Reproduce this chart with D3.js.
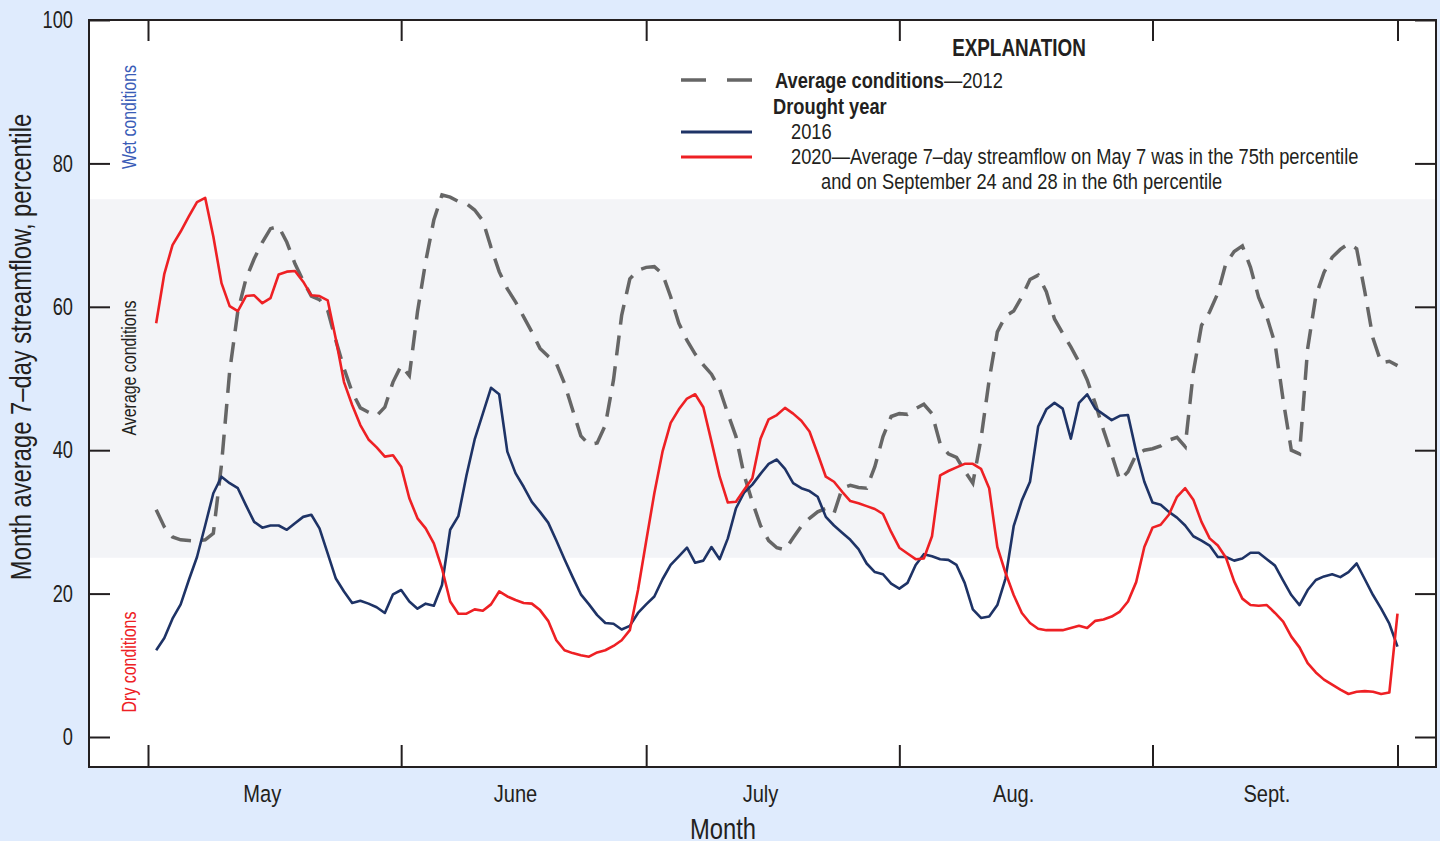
<!DOCTYPE html>
<html><head><meta charset="utf-8">
<script src="https://cdn.jsdelivr.net/npm/d3@7"></script>
<style>
html,body{margin:0;padding:0;background:#dfebfd;}
svg{display:block;}
text{font-family:"Liberation Sans",Arial,sans-serif;fill:#231f20;}
</style></head><body>
<svg id="chart" width="1440" height="841"></svg>
<script>
// ---- data ----
const monthLabels = ["May", "June", "July", "Aug.", "Sept."];
const monthBoundaries = [0, 31, 61, 92, 123, 153]; // day-of-season at month starts/end (May 1 = day 1)
const yTicks = [0, 20, 40, 60, 80, 100];
const averageBand = [25, 75];

// daily values May 1 .. Sept 30 (153 days)
const series2012 = [
31.7,29.3,27.9,27.5,27.4,27.3,27.5,28.4,38.0,51.0,
59.4,63.9,66.7,69.0,70.9,71.2,69.0,66.0,63.6,61.5,
61.0,59.5,55.3,51.4,48.1,45.9,45.3,44.8,46.0,49.5,
51.8,50.4,59.3,66.3,72.1,75.6,75.3,74.7,74.4,73.5,
72.0,68.3,64.9,62.5,60.7,58.6,56.5,54.2,53.1,52.1,
49.3,45.6,42.0,40.8,41.0,43.5,49.8,58.8,63.9,65.1,
65.5,65.6,64.6,61.4,57.7,55.3,53.4,51.9,50.6,48.5,
45.1,41.9,36.5,32.8,29.5,27.4,26.4,26.1,27.8,29.4,
30.5,31.4,31.9,31.2,34.7,35.1,34.8,34.7,37.7,41.9,
44.7,45.1,45.0,45.8,46.4,45.1,40.9,39.5,39.0,37.1,
35.4,41.6,49.8,56.5,58.7,59.4,61.4,63.8,64.4,62.1,
58.3,56.3,54.4,52.3,49.8,46.5,42.8,39.4,35.8,37.0,
39.4,40.0,40.2,40.6,41.4,41.8,40.5,50.9,57.4,59.3,
61.9,66.1,67.7,68.5,65.5,61.3,58.6,54.9,47.0,40.0,
39.5,54.2,61.5,64.8,66.9,68.0,68.8,68.1,62.1,55.6,
52.2,52.4,51.8];

const series2016 = [
12.1,13.8,16.5,18.5,21.9,25.1,29.5,34.0,36.3,35.4,
34.7,32.3,30.0,29.2,29.5,29.5,28.9,29.8,30.7,31.0,
29.1,25.6,22.1,20.3,18.7,19.0,18.6,18.1,17.3,19.9,
20.5,18.9,17.9,18.6,18.3,21.2,28.9,30.8,36.5,41.5,
45.1,48.7,47.8,39.8,36.8,34.9,32.8,31.4,29.9,27.4,
24.8,22.3,19.9,18.5,17.0,15.9,15.8,15.0,15.5,17.3,
18.5,19.6,22.0,24.0,25.2,26.4,24.3,24.6,26.5,24.8,
27.7,31.9,34.1,35.2,36.7,38.1,38.7,37.4,35.4,34.7,
34.3,33.5,30.7,29.5,28.5,27.5,26.2,24.2,23.0,22.7,
21.4,20.7,21.5,24.0,25.5,25.2,24.8,24.7,24.0,21.5,
17.8,16.6,16.8,18.4,22.1,29.4,33.0,35.6,43.3,45.7,
46.6,45.8,41.6,46.6,47.8,45.8,45.0,44.2,44.8,44.9,
39.8,35.6,32.7,32.4,31.4,30.6,29.5,28.0,27.4,26.7,
25.1,25.1,24.6,24.9,25.7,25.7,24.8,23.9,21.8,19.8,
18.4,20.5,21.9,22.4,22.7,22.3,23.0,24.2,22.0,19.8,
17.9,15.8,12.6];

const series2020 = [
57.7,64.6,68.6,70.5,72.6,74.6,75.2,69.8,63.3,60.1,
59.4,61.5,61.6,60.5,61.2,64.5,64.9,65.0,63.5,61.6,
61.5,60.9,55.5,49.5,46.3,43.5,41.5,40.4,39.1,39.3,
37.7,33.3,30.5,29.1,27.0,23.5,18.9,17.2,17.2,17.8,
17.6,18.5,20.3,19.6,19.1,18.7,18.6,17.7,16.2,13.5,
12.1,11.7,11.4,11.2,11.8,12.1,12.7,13.5,14.9,20.5,
27.3,34.0,39.8,43.8,45.7,47.2,47.8,46.0,41.2,36.3,
32.7,32.8,34.5,36.1,41.6,44.3,44.9,45.9,45.1,44.1,
42.6,39.5,36.3,35.6,34.2,32.9,32.6,32.2,31.8,31.1,
28.6,26.4,25.6,24.8,24.9,28.0,36.5,37.1,37.6,38.1,
38.1,37.4,34.7,26.5,22.9,19.8,17.3,15.9,15.1,14.9,
14.9,14.9,15.2,15.5,15.2,16.2,16.4,16.8,17.5,18.9,
21.6,26.5,29.2,29.6,31.0,33.5,34.7,33.1,30.0,27.7,
26.7,25.0,21.7,19.3,18.4,18.3,18.4,17.3,16.1,14.0,
12.5,10.3,9.0,8.0,7.3,6.6,6.0,6.3,6.4,6.3,
6.0,6.2,17.2];

// ---- layout ----
const SX = 0.82; // horizontal compression to mimic a condensed typeface
const ink = "#231f20";
const frame = {left: 89, right: 1436, top: 20, bottom: 767};
const svg = d3.select("#chart");
const x = d3.scaleLinear().domain([0, 153]).range([148, 1397.5]);
const y = d3.scaleLinear().domain([0, 100]).range([737, 20]);

function ctext(parent, px, py, str, size, o = {}) {
  const t = parent.append("text")
    .attr("transform", `translate(${px},${py})${o.rotate ? ` rotate(${o.rotate})` : ""} scale(${o.sx || SX},1)`)
    .attr("font-size", size)
    .attr("text-anchor", o.anchor || "start")
    .style("fill", o.fill || ink);
  if (o.weight) t.attr("font-weight", o.weight);
  if (str !== null) t.text(str);
  return t;
}

// plot background and average band
svg.append("rect").attr("x", frame.left).attr("y", frame.top)
  .attr("width", frame.right - frame.left).attr("height", frame.bottom - frame.top)
  .attr("fill", "#ffffff");
svg.append("rect").attr("x", frame.left).attr("y", y(averageBand[1]))
  .attr("width", frame.right - frame.left).attr("height", y(averageBand[0]) - y(averageBand[1]))
  .attr("fill", "#f3f4f7");

// axes (ticks pointing inward)
const gL = svg.append("g").attr("transform", `translate(${frame.left},0)`)
  .call(d3.axisLeft(y).tickValues(yTicks).tickSizeInner(-21).tickSizeOuter(0).tickPadding(16));
const gR = svg.append("g").attr("transform", `translate(${frame.right},0)`)
  .call(d3.axisRight(y).tickValues(yTicks).tickSizeInner(-21).tickSizeOuter(0).tickFormat(""));
const gB = svg.append("g").attr("transform", `translate(0,${frame.bottom})`)
  .call(d3.axisBottom(x).tickValues(monthBoundaries).tickSizeInner(-22).tickSizeOuter(0).tickFormat(""));
const gT = svg.append("g").attr("transform", `translate(0,${frame.top})`)
  .call(d3.axisTop(x).tickValues(monthBoundaries).tickSizeInner(-21).tickSizeOuter(0).tickFormat(""));
[gL, gR, gB, gT].forEach(g => {
  g.select(".domain").remove();
  g.selectAll("line").attr("stroke", ink).attr("stroke-width", 2);
});
gL.selectAll("text")
  .attr("x", null)
  .attr("transform", `translate(-16,0) scale(0.76,1)`)
  .attr("font-size", 24).attr("font-family", null).style("fill", ink);

// month labels
monthLabels.forEach((m, i) => {
  ctext(svg, x(monthBoundaries[i] + 14), 802, m, 24.5, {anchor: "middle"});
});

// axis titles
ctext(svg, 723, 839, "Month", 29, {anchor: "middle"});
ctext(svg, 31, 347, "Month average 7\u2013day streamflow, percentile", 29, {anchor: "middle", rotate: -90});

// condition labels
ctext(svg, 136, 117, "Wet conditions", 19.4, {anchor: "middle", rotate: -90, fill: "#3a5cb7"});
ctext(svg, 136, 368, "Average conditions", 19.4, {anchor: "middle", rotate: -90});
ctext(svg, 136, 662, "Dry conditions", 19.4, {anchor: "middle", rotate: -90, fill: "#ee2024"});

// lines
const line = d3.line().x((d, i) => x(i + 1)).y(d => y(d));
svg.append("path").datum(series2012).attr("d", line)
  .attr("fill", "none").attr("stroke", "#666666").attr("stroke-width", 3.5)
  .attr("stroke-dasharray", "20,11");
svg.append("path").datum(series2016).attr("d", line)
  .attr("fill", "none").attr("stroke", "#1e3366").attr("stroke-width", 2.6)
  .attr("stroke-linejoin", "round");
svg.append("path").datum(series2020).attr("d", line)
  .attr("fill", "none").attr("stroke", "#ee2024").attr("stroke-width", 2.6)
  .attr("stroke-linejoin", "round");

// frame
svg.append("rect").attr("x", frame.left).attr("y", frame.top)
  .attr("width", frame.right - frame.left).attr("height", frame.bottom - frame.top)
  .attr("fill", "none").attr("stroke", ink).attr("stroke-width", 2);

// legend
const lg = svg.append("g");
ctext(lg, 1019, 56, "EXPLANATION", 23, {anchor: "middle", weight: "bold"});
lg.append("line").attr("x1", 681).attr("x2", 752).attr("y1", 80).attr("y2", 80)
  .attr("stroke", "#666666").attr("stroke-width", 3.5).attr("stroke-dasharray", "25,21");
const t1 = ctext(lg, 775, 88, null, 22.3);
t1.append("tspan").attr("font-weight", "bold").text("Average conditions");
t1.append("tspan").text("\u20142012");
ctext(lg, 773, 114, "Drought year", 22.3, {weight: "bold"});
lg.append("line").attr("x1", 681).attr("x2", 752).attr("y1", 132).attr("y2", 132)
  .attr("stroke", "#1e3366").attr("stroke-width", 3);
ctext(lg, 791, 139, "2016", 22.3);
lg.append("line").attr("x1", 681).attr("x2", 752).attr("y1", 157).attr("y2", 157)
  .attr("stroke", "#ee2024").attr("stroke-width", 3);
ctext(lg, 791, 164, "2020\u2014Average 7\u2013day streamflow on May 7 was in the 75th percentile", 22.3);
ctext(lg, 821, 189, "and on September 24 and 28 in the 6th percentile", 22.3);
</script>
</body></html>
